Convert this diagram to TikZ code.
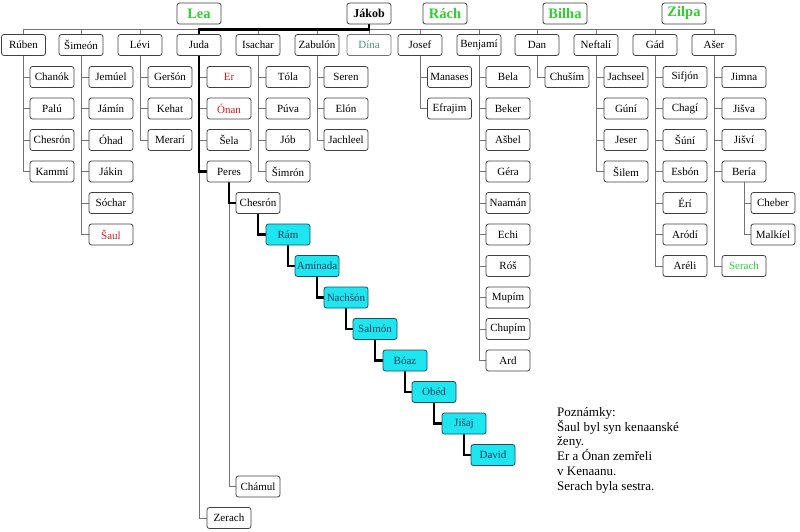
\documentclass[tikz,border=0pt]{standalone}
\usepackage{fontspec}
\setmainfont{Liberation Serif}
\usetikzlibrary{backgrounds}
\definecolor{lgreen}{RGB}{50,205,50}
\definecolor{dinatext}{RGB}{70,150,125}
\definecolor{rednm}{RGB}{210,30,30}
\definecolor{cyanfill}{RGB}{30,230,240}
\definecolor{cyanborder}{RGB}{20,80,95}
\definecolor{cyantext}{RGB}{20,60,90}
\begin{document}
\begin{tikzpicture}[x=1pt,y=-1pt,
  box/.style={draw=black!75, line width=0.8pt, rounded corners=2.5pt,
    minimum width=44pt, minimum height=21pt, inner sep=1pt, fill=white,
    font=\fontsize{11}{13}\selectfont},
  mother/.style={box, font=\fontsize{14.5}{16}\selectfont\bfseries, text=lgreen},
  father/.style={box, font=\fontsize{12}{14}\selectfont\bfseries},
  cbox/.style={box, fill=cyanfill, draw=cyanborder, text=cyantext},
  rednm/.style={text=rednm},
  grnm/.style={text=lgreen},
  conn/.style={draw=black!55, line width=0.9pt},
  mainline/.style={draw=black, line width=2.8pt},
]
\useasboundingbox (0,0) rectangle (800,532);

% top row
\node[mother] (lea) at (199,13.5) {Lea};
\node[father] (jakob) at (369,13.5) {Jákob};
\node[mother] (rachel) at (445,13.5) {Rách};
\node[mother] (bilha) at (565,13.5) {Bilha};
\node[mother] (zilpa) at (684,13.5) {Zilpa};

% sons
\node[box] (ruben) at (23.5,45) {Rúben};
\node[box] (simeon) at (81,45) {Šimeón};
\node[box] (levi) at (140,45) {Lévi};
\node[box] (juda) at (199,45) {Juda};
\node[box] (isachar) at (258,45) {Isachar};
\node[box] (zabulon) at (317,45) {Zabulón};
\node[box, draw=black!55, text=dinatext] (dina) at (369,45) {Dína};
\node[box] (josef) at (420,45) {Josef};
\node[box] (benjamin) at (479,45) {Benjamí};
\node[box] (dan) at (537,45) {Dan};
\node[box] (neftali) at (596,45) {Neftalí};
\node[box] (gad) at (655,45) {Gád};
\node[box] (aser) at (714,45) {Ašer};

% Ruben
\node[box] (chanok) at (52,77) {Chanók};
\node[box] (palu) at (52,108.5) {Palú};
\node[box] (chesronA) at (52,140) {Chesrón};
\node[box] (kammi) at (52,171.5) {Kammí};
% Simeon
\node[box] (jemuel) at (111,77) {Jemúel};
\node[box] (jamin) at (111,108.5) {Jámín};
\node[box] (ohad) at (111,140) {Óhad};
\node[box] (jakin) at (111,171.5) {Jákin};
\node[box] (sochar) at (111,203) {Sóchar};
\node[box, rednm] (saul) at (111,234.5) {Šaul};
% Levi
\node[box] (gerson) at (170,77) {Geršón};
\node[box] (kehat) at (170,108.5) {Kehat};
\node[box] (merari) at (170,140) {Merarí};
% Juda
\node[box, rednm] (er) at (229,77) {Er};
\node[box, rednm] (onan) at (229,108.5) {Ónan};
\node[box] (sela) at (229,140) {Šela};
\node[box] (peres) at (229,171.5) {Peres};
\node[box] (zerach) at (229,518) {Zerach};
\node[box] (chesronB) at (258,203) {Chesrón};
\node[box] (chamul) at (258,486.5) {Chámul};
\node[cbox] (ram) at (288,234.5) {Rám};
\node[cbox] (aminada) at (317,266) {Amínada};
\node[cbox] (nachson) at (346,297.5) {Nachšón};
\node[cbox] (salmon) at (375,329) {Salmón};
\node[cbox] (boaz) at (405,360.5) {Bóaz};
\node[cbox] (obed) at (434,392) {Obéd};
\node[cbox] (jisaj) at (464,423.5) {Jišaj};
\node[cbox] (david) at (493,455) {David};
% Isachar
\node[box] (tola) at (288,77) {Tóla};
\node[box] (puva) at (288,108.5) {Púva};
\node[box] (job) at (288,140) {Jób};
\node[box] (simron) at (288,171.5) {Šimrón};
% Zabulon
\node[box] (seren) at (346,77) {Seren};
\node[box] (elon) at (346,108.5) {Elón};
\node[box] (jachleel) at (346,140) {Jachleel};
% Josef
\node[box] (manases) at (449.5,77) {Manases};
\node[box] (efrajim) at (449.5,108.5) {Efrajim};
% Benjamin
\node[box] (bela) at (508,77) {Bela};
\node[box] (beker) at (508,108.5) {Beker};
\node[box] (asbel) at (508,140) {Ašbel};
\node[box] (gera) at (508,171.5) {Géra};
\node[box] (naaman) at (508,203) {Naamán};
\node[box] (echi) at (508,234.5) {Echi};
\node[box] (ros) at (508,266) {Róš};
\node[box] (mupim) at (508,297.5) {Mupím};
\node[box] (chupim) at (508,329) {Chupím};
\node[box] (ard) at (508,360.5) {Ard};
% Dan
\node[box] (chusim) at (567,77) {Chuším};
% Neftali
\node[box] (jachseel) at (626,77) {Jachseel};
\node[box] (guni) at (626,108.5) {Gúní};
\node[box] (jeser) at (626,140) {Jeser};
\node[box] (silem) at (626,171.5) {Šilem};
% Gad
\node[box] (sifjon) at (685,77) {Sifjón};
\node[box] (chagi) at (685,108.5) {Chagí};
\node[box] (suni) at (685,140) {Šúní};
\node[box] (esbon) at (685,171.5) {Esbón};
\node[box] (eri) at (685,203) {Érí};
\node[box] (arodi) at (685,234.5) {Aródí};
\node[box] (areli) at (685,266) {Aréli};
% Aser
\node[box] (jimna) at (744,77) {Jimna};
\node[box] (jisva) at (744,108.5) {Jišva};
\node[box] (jisvi) at (744,140) {Jišví};
\node[box] (beria) at (744,171.5) {Bería};
\node[box, grnm] (serach) at (744,266) {Serach};
\node[box] (cheber) at (773,203) {Cheber};
\node[box] (malkiel) at (773,234.5) {Malkíel};

% notes
\node[anchor=north west, align=left, inner sep=0pt,
      font=\fontsize{13}{14.8}\selectfont] (notes) at (557,407)
  {Poznámky:\\Šaul byl syn kenaanské\\ženy.\\Er a Ónan zemřeli\\v Kenaanu.\\Serach byla sestra.};

\begin{pgfonlayer}{background}
\coordinate (bus) at (0,29.5);
\draw[conn] (ruben.north) -- (ruben.north |- bus) -- (aser.north |- bus) -- (aser.north);
\foreach \n in {simeon,levi,isachar,zabulon,dina,josef,benjamin,dan,neftali,gad}
  \draw[conn] (\n.north) -- (\n.north |- bus);
\foreach \p/\c in {ruben/chanok,ruben/palu,ruben/chesronA,ruben/kammi,
  simeon/jemuel,simeon/jamin,simeon/ohad,simeon/jakin,simeon/sochar,simeon/saul,
  levi/gerson,levi/kehat,levi/merari,
  juda/er,juda/onan,juda/sela,juda/peres,juda/zerach,
  peres/chesronB,peres/chamul,
  isachar/tola,isachar/puva,isachar/job,isachar/simron,
  zabulon/seren,zabulon/elon,zabulon/jachleel,
  josef/manases,josef/efrajim,
  benjamin/bela,benjamin/beker,benjamin/asbel,benjamin/gera,benjamin/naaman,
  benjamin/echi,benjamin/ros,benjamin/mupim,benjamin/chupim,benjamin/ard,
  dan/chusim,
  neftali/jachseel,neftali/guni,neftali/jeser,neftali/silem,
  gad/sifjon,gad/chagi,gad/suni,gad/esbon,gad/eri,gad/arodi,gad/areli,
  aser/jimna,aser/jisva,aser/jisvi,aser/beria,aser/serach,
  beria/cheber,beria/malkiel}
  \draw[conn] (\p.south) |- (\c.west);
\draw[mainline] (juda.north) -- (juda.north |- bus) -- (jakob.south |- bus) -- (jakob.south);
\foreach \p/\c in {juda/peres,peres/chesronB,chesronB/ram,ram/aminada,
  aminada/nachson,nachson/salmon,salmon/boaz,boaz/obed,obed/jisaj,jisaj/david}
  \draw[mainline] (\p.south) |- (\c.west);
\end{pgfonlayer}
\end{tikzpicture}
\end{document}
